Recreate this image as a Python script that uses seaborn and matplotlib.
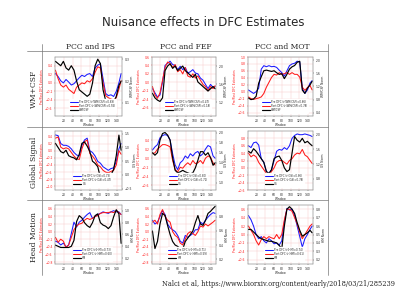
import matplotlib
matplotlib.use("Agg")
import matplotlib.pyplot as plt
from matplotlib.lines import Line2D
import numpy as np
import pandas as pd
import seaborn as sns

# window index shared by all panels
window = [1, 7, 13, 19, 25, 31, 37, 43, 49, 55, 61, 67, 73, 79, 85, 91, 97, 103, 109, 115, 121, 127, 133, 139, 145, 150]

# Row 1: WM+CSF
wm_ips_pre = [0.22, 0.15, 0.05, 0.0, 0.08, 0.02, -0.05, -0.02, 0.05, 0.12, 0.18, 0.15, 0.2, 0.22, 0.15, 0.35, 0.42, 0.45, 0.1, -0.25, -0.3, -0.28, -0.32, -0.2, 0.0, 0.22]
wm_ips_post = [0.3, 0.1, -0.05, -0.1, -0.05, -0.15, -0.2, -0.25, -0.1, -0.05, 0.0, -0.02, 0.05, 0.02, 0.1, 0.25, 0.38, 0.35, 0.0, -0.3, -0.35, -0.38, -0.4, -0.35, -0.15, 0.05]
wm_ips_norm = [0.29, 0.28, 0.27, 0.29, 0.26, 0.25, 0.27, 0.25, 0.2, 0.16, 0.15, 0.14, 0.13, 0.14, 0.19, 0.27, 0.3, 0.28, 0.16, 0.11, 0.09, 0.1, 0.1, 0.13, 0.18, 0.2]

wm_fef_pre = [-0.15, -0.25, -0.35, -0.3, 0.0, 0.4, 0.45, 0.5, 0.42, 0.4, 0.3, 0.38, 0.3, 0.35, 0.22, 0.25, 0.3, 0.22, 0.2, 0.1, 0.05, -0.05, -0.15, -0.05, -0.12, -0.1]
wm_fef_post = [-0.1, -0.3, -0.38, -0.25, 0.05, 0.35, 0.48, 0.45, 0.35, 0.42, 0.25, 0.3, 0.2, 0.35, 0.15, 0.12, 0.2, 0.1, 0.15, 0.05, -0.05, -0.1, -0.2, -0.1, -0.15, -0.08]
wm_fef_norm = [1.4, 1.3, 1.25, 1.22, 1.3, 1.9, 2.0, 2.05, 1.95, 2.0, 1.9, 1.95, 2.0, 1.9, 1.85, 1.8, 1.75, 1.82, 1.65, 1.6, 1.55, 1.5, 1.45, 1.5, 1.55, 1.5]

wm_mot_pre = [0.05, 0.0, -0.05, 0.0, 0.1, 0.65, 0.75, 0.72, 0.75, 0.72, 0.73, 0.7, 0.62, 0.55, 0.45, 0.6, 0.75, 0.8, 0.82, 0.88, 0.85, 0.1, -0.05, 0.05, 0.25, 0.32]
wm_mot_post = [-0.15, -0.2, -0.22, -0.2, -0.18, -0.15, -0.05, 0.13, 0.27, 0.41, 0.5, 0.48, 0.55, 0.5, 0.52, 0.55, 0.5, 0.55, 0.5, 0.5, 0.42, 0.13, 0.04, 0.12, 0.18, 0.05]
wm_mot_norm = [0.85, 0.8, 0.82, 0.9, 1.3, 1.5, 1.68, 1.7, 1.68, 1.66, 1.68, 1.62, 1.57, 1.59, 1.44, 1.57, 1.73, 1.8, 1.84, 1.94, 1.97, 1.09, 0.99, 1.15, 1.25, 1.36]

# Row 2: Global Signal
gs_ips_pre = [0.44, 0.42, 0.2, 0.15, 0.15, 0.12, 0.05, -0.05, -0.12, -0.15, 0.15, 0.3, 0.35, 0.0, -0.05, -0.15, -0.3, -0.35, -0.45, -0.5, -0.55, -0.5, -0.48, -0.3, 0.05, 0.2]
gs_ips_post = [0.35, 0.38, 0.1, 0.05, 0.08, 0.05, -0.05, -0.15, -0.22, -0.25, 0.05, 0.25, 0.3, -0.08, -0.15, -0.25, -0.4, -0.45, -0.55, -0.6, -0.62, -0.58, -0.55, -0.4, 0.0, -0.1]
gs_ips_norm = [1.15, 1.0, 0.85, 0.8, 0.9, 0.7, 0.65, 0.62, 0.55, 0.75, 1.15, 1.2, 1.05, 0.85, 0.5, 0.42, 0.3, -0.1, -0.15, -0.12, -0.15, 0.0, 0.2, 0.7, 1.45, 0.9]

gs_fef_pre = [0.18, 0.25, 0.3, 0.45, 0.5, 0.52, 0.5, 0.4, 0.1, -0.15, -0.25, -0.1, -0.05, 0.05, 0.0, 0.1, 0.05, 0.12, 0.15, 0.05, 0.1, 0.2, 0.28, 0.25, 0.05, 0.0]
gs_fef_post = [0.1, 0.12, 0.2, 0.25, 0.3, 0.3, 0.28, 0.25, -0.05, -0.25, -0.3, -0.2, -0.22, -0.15, -0.1, -0.15, -0.05, -0.12, -0.1, -0.05, -0.12, 0.0, 0.05, 0.02, -0.1, -0.15]
gs_fef_norm = [1.6, 1.55, 1.6, 1.85, 1.98, 2.0, 1.95, 1.85, 1.5, 1.25, 1.2, 1.22, 1.25, 1.22, 1.2, 1.18, 1.2, 1.3, 1.45, 1.62, 1.62, 1.55, 1.6, 1.5, 1.35, 1.4]

gs_mot_pre = [0.6, 0.55, 0.68, 0.7, 0.62, 0.25, 0.15, -0.1, -0.15, -0.05, 0.2, 0.45, 0.5, 0.48, 0.55, 0.5, 0.6, 0.8, 0.88, 0.92, 0.9, 0.9, 0.92, 0.9, 0.88, 0.85]
gs_mot_post = [0.4, 0.3, 0.35, 0.3, 0.15, 0.05, -0.05, -0.15, -0.2, -0.1, 0.0, 0.15, 0.2, 0.2, 0.15, 0.1, 0.2, 0.25, 0.35, 0.4, 0.38, 0.5, 0.35, 0.3, 0.2, 0.12]
gs_mot_norm = [1.55, 1.5, 1.62, 1.55, 1.45, 1.35, 1.25, 1.0, 0.95, 1.05, 1.35, 1.4, 1.42, 1.3, 1.1, 1.0, 1.05, 1.5, 1.95, 1.85, 1.8, 1.9, 1.78, 1.82, 1.75, 1.7]

# Row 3: Head Motion
hm_ips_pre = [-0.25, -0.28, -0.35, -0.3, -0.4, -0.35, -0.05, 0.25, 0.12, 0.25, 0.3, 0.38, 0.45, 0.5, 0.35, 0.4, 0.45, 0.48, 0.52, 0.5, 0.48, 0.52, 0.55, 0.52, 0.52, 0.45]
hm_ips_post = [-0.15, -0.28, -0.2, -0.25, -0.42, -0.35, -0.15, 0.05, 0.15, 0.2, 0.22, 0.3, 0.35, 0.32, 0.35, 0.4, 0.42, 0.48, 0.5, 0.5, 0.5, 0.52, 0.5, 0.55, 0.5, 0.45]
hm_ips_norm = [0.42, 0.4, 0.38, 0.38, 0.38, 0.38, 0.4, 0.5, 0.82, 0.92, 0.88, 0.8, 0.75, 0.72, 0.8, 0.92, 0.95, 0.8, 0.76, 0.74, 0.7, 0.75, 0.9, 1.02, 0.95, 0.45]

hm_fef_pre = [0.3, 0.2, 0.25, 0.4, 0.55, 0.45, 0.2, 0.1, 0.05, 0.0, -0.1, -0.25, -0.3, -0.1, -0.15, -0.1, -0.05, 0.05, 0.05, 0.25, 0.2, 0.3, 0.38, 0.45, 0.5, 0.48]
hm_fef_post = [0.25, 0.3, 0.2, 0.45, 0.58, 0.4, 0.3, 0.25, 0.0, -0.1, -0.15, -0.3, -0.35, -0.2, -0.05, 0.0, -0.05, -0.1, 0.0, 0.15, 0.12, 0.2, 0.15, 0.2, 0.25, 0.3]
hm_fef_norm = [0.6, 0.35, 0.45, 0.7, 0.85, 0.82, 0.68, 0.55, 0.45, 0.4, 0.38, 0.35, 0.34, 0.45, 0.5, 0.55, 0.6, 0.72, 0.82, 0.7, 0.68, 0.75, 0.85, 0.88, 0.92, 0.95]

hm_mot_pre = [0.45, 0.35, 0.2, 0.0, -0.1, -0.05, -0.15, -0.2, -0.1, -0.15, -0.22, -0.2, -0.25, -0.15, 0.3, 0.62, 0.58, 0.6, 0.45, 0.2, -0.05, -0.3, -0.1, 0.0, 0.12, 0.2]
hm_mot_post = [0.2, 0.1, 0.0, -0.15, -0.25, -0.12, -0.05, -0.1, -0.05, -0.08, -0.1, 0.0, -0.1, 0.0, 0.35, 0.6, 0.6, 0.55, 0.4, 0.25, 0.05, -0.1, 0.0, 0.1, 0.2, 0.25]
hm_mot_norm = [0.56, 0.56, 0.53, 0.5, 0.47, 0.45, 0.44, 0.43, 0.42, 0.42, 0.41, 0.4, 0.37, 0.33, 0.6, 0.8, 0.83, 0.8, 0.75, 0.64, 0.55, 0.48, 0.5, 0.52, 0.55, 0.52]

col_titles = ["PCC and IPS", "PCC and FEF", "PCC and MOT"]
row_titles = ["WM+CSF", "Global Signal", "Head Motion"]
nuisance = ["WM/CSF", "GS", "HM"]
r_pre = [[0.69, 0.47, 0.66], [0.73, 0.80, 0.86], [0.73, 0.71, 0.74]]
r_post = [[0.55, 0.18, 0.78], [0.47, 0.71, 0.78], [0.60, 0.59, 0.61]]

series = [
    [(wm_ips_pre, wm_ips_post, wm_ips_norm), (wm_fef_pre, wm_fef_post, wm_fef_norm), (wm_mot_pre, wm_mot_post, wm_mot_norm)],
    [(gs_ips_pre, gs_ips_post, gs_ips_norm), (gs_fef_pre, gs_fef_post, gs_fef_norm), (gs_mot_pre, gs_mot_post, gs_mot_norm)],
    [(hm_ips_pre, hm_ips_post, hm_ips_norm), (hm_fef_pre, hm_fef_post, hm_fef_norm), (hm_mot_pre, hm_mot_post, hm_mot_norm)],
]

# axis ranges per panel: (left ylim, left ticks, right ylim, right ticks)
step2 = lambda a, b: list(np.round(np.arange(a, b + 0.01, 0.2), 1))
limits = [
    [((-0.78, 0.61), step2(-0.6, 0.4), (0.04, 0.31), [0.1, 0.2, 0.3]),
     ((-0.8, 0.6), step2(-0.6, 0.6), (0.9, 2.2), [1.2, 1.6, 2.0]),
     ((-0.7, 1.0), step2(-0.6, 1.0), (0.3, 2.1), [0.4, 0.8, 1.2, 1.6, 2.0])],
    [((-1.1, 0.55), step2(-1.0, 0.4), (-0.55, 1.6), [-0.5, 0.0, 0.5, 1.0, 1.5]),
     ((-0.7, 0.6), step2(-0.6, 0.4), (0.86, 2.03), [1.0, 1.2, 1.4, 1.6, 1.8, 2.0]),
     ((-0.6, 1.0), step2(-0.6, 0.8), (0.5, 2.1), [0.8, 1.2, 1.6, 2.0])],
    [((-0.85, 0.7), step2(-0.8, 0.6), (0.1, 1.1), [0.2, 0.4, 0.6, 0.8, 1.0]),
     ((-0.85, 0.7), step2(-0.8, 0.6), (0.13, 0.97), [0.2, 0.4, 0.6, 0.8]),
     ((-0.7, 0.7), step2(-0.6, 0.6), (0.15, 0.85), [0.2, 0.3, 0.4, 0.5, 0.6, 0.7, 0.8])],
]

sns.set_style("ticks")
plt.rcParams['font.family'] = ['DejaVu Sans']

fig = plt.figure(figsize=(4, 3), dpi=100)
fig.patch.set_facecolor('white')

W, H = 400, 300
cols_px = [(55, 122), (152, 216), (248, 313)]
rows_px = [(57, 116), (131, 190), (205, 264)]
tiny = 2.2
blue, red = '#1a1aff', '#ff1a1a'

for i, (y0, y1) in enumerate(rows_px):
    for j, (x0, x1) in enumerate(cols_px):
        pre, post, norm = series[i][j]
        lyl, lyt, ryl, ryt = limits[i][j]
        ax = fig.add_axes([x0 / W, 1 - y1 / H, (x1 - x0) / W, (y1 - y0) / H])
        df = pd.DataFrame({'Window': window, 'pre': pre, 'post': post, 'norm': norm})
        sns.lineplot(data=df, x='Window', y='pre', ax=ax, color=blue, lw=0.75,
                     label=f"Pre DFC (r({nuisance[i]})={r_pre[i][j]:.2f})", legend=False)
        sns.lineplot(data=df, x='Window', y='post', ax=ax, color=red, lw=0.75,
                     label=f"Post DFC (r({nuisance[i]})={r_post[i][j]:.2f})", legend=False)
        ax.set_xlim(0, 152)
        ax.set_ylim(*lyl)
        ax.set_yticks(lyt)
        ax.set_xticks([20, 40, 60, 80, 100, 120, 140])
        ax.grid(True, color='#f6c4c4', lw=0.3)
        ax.tick_params(labelsize=tiny, length=1, width=0.3, pad=0.8)
        ax.tick_params(axis='y', colors=red, labelcolor=red)
        ax.set_xlabel('Window', fontsize=tiny, labelpad=0.5)
        ax.set_ylabel('Pre/Post DFC Estimates', fontsize=tiny, color=red, labelpad=0.5)
        for s in ax.spines.values():
            s.set_linewidth(0.3)
            s.set_color('#999999')

        ax2 = ax.twinx()
        sns.lineplot(data=df, x='Window', y='norm', ax=ax2, color='black', lw=0.85,
                     label=nuisance[i], legend=False)
        ax2.set_ylim(*ryl)
        ax2.set_yticks(ryt)
        ax2.tick_params(labelsize=tiny, length=1, width=0.3, pad=0.8)
        ax2.set_ylabel(f"{nuisance[i]} Norm", fontsize=tiny, labelpad=0.8)
        for s in ax2.spines.values():
            s.set_linewidth(0.3)
            s.set_color('#999999')

        h1, l1 = ax.get_legend_handles_labels()
        h2, l2 = ax2.get_legend_handles_labels()
        ax2.legend(h1 + h2, l1 + l2, loc='lower center', bbox_to_anchor=(0.56, 0.03),
                   fontsize=1.9, frameon=True, framealpha=1, edgecolor='white',
                   handlelength=3, borderpad=0.2, labelspacing=0.15, handletextpad=0.4)

# grid frame lines
lc = '#777777'
fig.add_artist(Line2D([27 / W, 328 / W], [1 - 51 / H, 1 - 51 / H], color=lc, lw=0.5))
for yy in (127, 200):
    fig.add_artist(Line2D([27 / W, 328 / W], [1 - yy / H, 1 - yy / H], color=lc, lw=0.5))
for xx in (42, 328):
    fig.add_artist(Line2D([xx / W, xx / W], [1 - 44 / H, 1 - 275 / H], color=lc, lw=0.5))

# column and row headers
for j, t in enumerate(col_titles):
    fig.text(((cols_px[j][0] + cols_px[j][1]) / 2 + 2) / W, 1 - 47 / H, t, ha='center', va='center',
             fontsize=5.5, family='DejaVu Serif')
for i, t in enumerate(row_titles):
    fig.text(34 / W, 1 - ((rows_px[i][0] + rows_px[i][1]) / 2 + 2) / H, t, ha='center', va='center',
             rotation=90, fontsize=5.5, family='DejaVu Serif')

fig.text(203 / W, 1 - 23 / H, 'Nuisance effects in DFC Estimates', ha='center', va='center', fontsize=8.5)
fig.text(395 / W, 1 - 284 / H, 'Nalci et al, https://www.biorxiv.org/content/early/2018/03/21/285239',
         ha='right', va='center', fontsize=4.8, family='DejaVu Serif')

fig.savefig('out.png', dpi=100, facecolor='white')
